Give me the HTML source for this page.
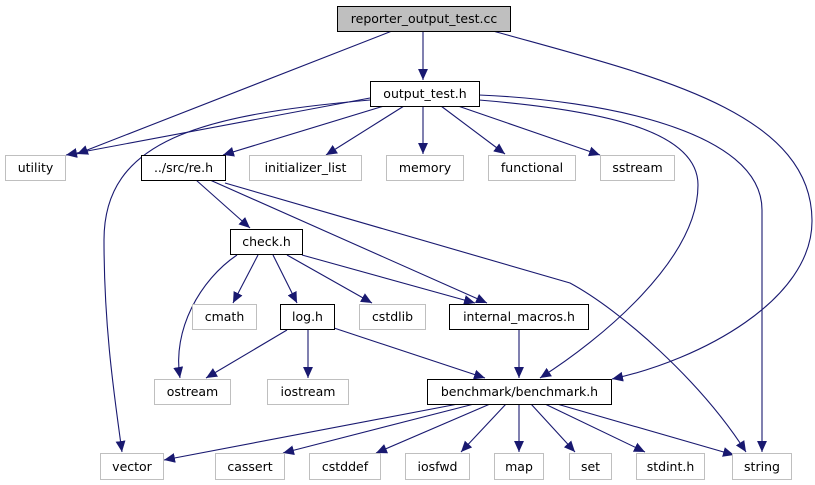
<!DOCTYPE html>
<html><head><meta charset="utf-8"><style>
html,body{margin:0;padding:0;background:#fff;}
svg{display:block;}
text{font-family:"DejaVu Sans","Liberation Sans",sans-serif;font-size:12.5px;text-anchor:middle;}
</style></head><body>
<svg width="815" height="485" viewBox="0 0 815 485" xmlns="http://www.w3.org/2000/svg">
<defs>
<marker id="a" viewBox="0 0 10 10" refX="10" refY="5" markerWidth="11" markerHeight="11" markerUnits="userSpaceOnUse" orient="auto">
<path d="M0,0.5 L10,5 L0,9.5 Z" fill="#191970"/>
</marker>
</defs>
<g fill="none" stroke="#191970" stroke-width="1.1" marker-end="url(#a)">
<path d="M392,31 L77,154"/>
<path d="M423,31 L423,80"/>
<path d="M493,31 C650,75 811,110 812,220 C813,300 700,360 612,379"/>
<path d="M370,98 L66,155"/>
<path d="M370,100 C200,115 104,140 104,240 C104,330 115,400 122,452"/>
<path d="M384,106 L223,155"/>
<path d="M404,106 L326,155"/>
<path d="M423,106 L423,154"/>
<path d="M441,106 L505,154"/>
<path d="M458,106 L600,155"/>
<path d="M479,100 C600,110 698,130 698,185 C698,260 600,340 540,378"/>
<path d="M479,95 C600,100 762,130 762,210 L762,452"/>
<path d="M196,180 L250,228"/>
<path d="M210,180 L487,303"/>
<path d="M225,183 L570,283 C620,310 700,380 746,452"/>
<path d="M237,255 C200,280 172,330 180,378"/>
<path d="M258,255 L233,303"/>
<path d="M273,255 L297,303"/>
<path d="M287,255 L372,303"/>
<path d="M302,255 L475,303"/>
<path d="M287,330 L206,378"/>
<path d="M308,330 L308,378"/>
<path d="M334,328 L485,378"/>
<path d="M519,330 L519,378"/>
<path d="M458,404 L164,460"/>
<path d="M474,404 L283,453"/>
<path d="M490,404 L376,453"/>
<path d="M506,404 L461,452"/>
<path d="M519,404 L519,452"/>
<path d="M531,404 L575,452"/>
<path d="M545,404 L645,452"/>
<path d="M557,404 L734,455"/>
</g>
<g stroke-width="1">
<rect x="337.5" y="6.5" width="173" height="25" fill="#bfbfbf" stroke="#000"/>
<rect x="370.5" y="81.5" width="109" height="25" fill="#fff" stroke="#000"/>
<rect x="141.5" y="155.5" width="84" height="25" fill="#fff" stroke="#000"/>
<rect x="230.5" y="229.5" width="72" height="25" fill="#fff" stroke="#000"/>
<rect x="280.5" y="304.5" width="54" height="25" fill="#fff" stroke="#000"/>
<rect x="449.5" y="304.5" width="139" height="25" fill="#fff" stroke="#000"/>
<rect x="427.5" y="379.5" width="184" height="25" fill="#fff" stroke="#000"/>
<g fill="#fff" stroke="#bfbfbf">
<rect x="5.5" y="155.5" width="60" height="25"/>
<rect x="249.5" y="155.5" width="112" height="25"/>
<rect x="386.5" y="155.5" width="77" height="25"/>
<rect x="488.5" y="155.5" width="87" height="25"/>
<rect x="600.5" y="155.5" width="74" height="25"/>
<rect x="192.5" y="304.5" width="64" height="25"/>
<rect x="359.5" y="304.5" width="66" height="25"/>
<rect x="154.5" y="379.5" width="76" height="25"/>
<rect x="267.5" y="379.5" width="81" height="25"/>
<rect x="100.5" y="453.5" width="63" height="26"/>
<rect x="215.5" y="453.5" width="69" height="26"/>
<rect x="309.5" y="453.5" width="71" height="26"/>
<rect x="405.5" y="453.5" width="64" height="26"/>
<rect x="494.5" y="453.5" width="49" height="26"/>
<rect x="569.5" y="453.5" width="42" height="26"/>
<rect x="636.5" y="453.5" width="68" height="26"/>
<rect x="732.5" y="453.5" width="59" height="26"/>
</g>
</g>
<g fill="#000">
<text x="424" y="23">reporter_output_test.cc</text>
<text x="425" y="98">output_test.h</text>
<text x="183.5" y="172">../src/re.h</text>
<text x="266.5" y="246">check.h</text>
<text x="307.5" y="321">log.h</text>
<text x="519" y="321">internal_macros.h</text>
<text x="519.5" y="396">benchmark/benchmark.h</text>
<text x="35.5" y="172">utility</text>
<text x="305.5" y="172">initializer_list</text>
<text x="425" y="172">memory</text>
<text x="532" y="172">functional</text>
<text x="637.5" y="172">sstream</text>
<text x="224.5" y="321">cmath</text>
<text x="392.5" y="321">cstdlib</text>
<text x="192.5" y="396">ostream</text>
<text x="308" y="396">iostream</text>
<text x="132" y="471">vector</text>
<text x="250" y="471">cassert</text>
<text x="345" y="471">cstddef</text>
<text x="437.5" y="471">iosfwd</text>
<text x="519" y="471">map</text>
<text x="590.5" y="471">set</text>
<text x="670.5" y="471">stdint.h</text>
<text x="762" y="471">string</text>
</g>
</svg>
</body></html>
